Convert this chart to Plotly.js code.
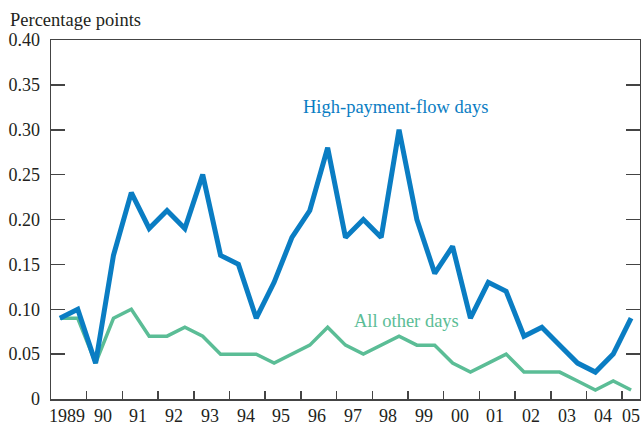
<!DOCTYPE html>
<html>
<head>
<meta charset="utf-8">
<script src="https://cdn.plot.ly/plotly-3.0.1.min.js"></script>
<style>
  html, body { margin: 0; padding: 0; background: #fff; }
  #chart { width: 641px; height: 425px; }
</style>
</head>
<body>
<div id="chart"></div>
<script>
// half-year observations, 1989 to 2005
const periods = [];
for (let y = 1989; y <= 2005; y++) {
    periods.push(y + 0.25);
    if (y < 2005) periods.push(y + 0.75);
}

const highPaymentFlow = [
    0.09, 0.10, 0.04, 0.16, 0.23, 0.19, 0.21, 0.19, 0.25, 0.16, 0.15,
    0.09, 0.13, 0.18, 0.21, 0.28, 0.18, 0.20, 0.18, 0.30, 0.20, 0.14,
    0.17, 0.09, 0.13, 0.12, 0.07, 0.08, 0.06, 0.04, 0.03, 0.05, 0.09
];
const allOtherDays = [
    0.09, 0.09, 0.04, 0.09, 0.10, 0.07, 0.07, 0.08, 0.07, 0.05, 0.05,
    0.05, 0.04, 0.05, 0.06, 0.08, 0.06, 0.05, 0.06, 0.07, 0.06, 0.06,
    0.04, 0.03, 0.04, 0.05, 0.03, 0.03, 0.03, 0.02, 0.01, 0.02, 0.01
];

const yearLabels = ["1989", "90", "91", "92", "93", "94", "95", "96", "97",
    "98", "99", "00", "01", "02", "03", "04", "05"];
const yTickVals = [0, 0.05, 0.10, 0.15, 0.20, 0.25, 0.30, 0.35, 0.40];
const yTickText = ["0", "0.05", "0.10", "0.15", "0.20", "0.25", "0.30", "0.35", "0.40"];

const serif = "Liberation Serif, Times New Roman, serif";
const textColor = "#231f20";
const blue = "#0a7dc3";
const green = "#5bbd96";

// year boundaries get ticks, labels sit in the middle of each year
const boundaries = [];
for (let y = 1990; y <= 2005; y++) boundaries.push(y);

const yearAnnotations = yearLabels.map((lab, i) => ({
    x: i === yearLabels.length - 1 ? 2005.26 : 1989 + i + 0.45,
    y: 0, xref: "x", yref: "paper",
    yanchor: "top", yshift: -5,
    text: lab, showarrow: false,
    font: { family: serif, size: 18, color: textColor }
}));

const traces = [
    {
        x: periods, y: allOtherDays, mode: "lines",
        line: { color: green, width: 3.5 }, hoverinfo: "skip"
    },
    {
        x: periods, y: highPaymentFlow, mode: "lines",
        line: { color: blue, width: 5 }, hoverinfo: "skip"
    }
];

const layout = {
    width: 641, height: 425,
    margin: { l: 51, r: 1, t: 40, b: 26 },
    paper_bgcolor: "#fff", plot_bgcolor: "#fff",
    showlegend: false,
    font: { family: serif, size: 18, color: textColor },
    xaxis: {
        range: [1989, 2005.5],
        tickmode: "array", tickvals: boundaries,
        showticklabels: false,
        ticks: "inside", ticklen: 8, tickwidth: 1.5, tickcolor: "#444",
        showline: true, linecolor: "#444", linewidth: 1.5, mirror: true,
        showgrid: false, zeroline: false, fixedrange: true
    },
    yaxis: {
        range: [0, 0.40],
        tickmode: "array", tickvals: yTickVals, ticktext: yTickText,
        ticks: "inside", ticklen: 14, tickwidth: 1.5, tickcolor: "#444",
        ticklabelstandoff: 6,
        tickfont: { family: serif, size: 18, color: textColor },
        showline: true, linecolor: "#444", linewidth: 1.5, mirror: "ticks",
        showgrid: false, zeroline: false, fixedrange: true
    },
    annotations: [
        {
            x: 0, y: 1, xref: "paper", yref: "paper",
            xanchor: "left", yanchor: "bottom", xshift: -43, yshift: 8,
            text: "Percentage points", showarrow: false,
            font: { family: serif, size: 18.5, color: textColor }
        },
        {
            x: 1998.64, y: 0.325, xref: "x", yref: "y",
            text: "High-payment-flow days", showarrow: false,
            font: { family: serif, size: 18.5, color: blue }
        },
        {
            x: 1998.97, y: 0.087, xref: "x", yref: "y",
            text: "All other days", showarrow: false,
            font: { family: serif, size: 18.5, color: green }
        },
        ...yearAnnotations
    ]
};

Plotly.newPlot("chart", traces, layout, { staticPlot: true, displayModeBar: false });
</script>
</body>
</html>
